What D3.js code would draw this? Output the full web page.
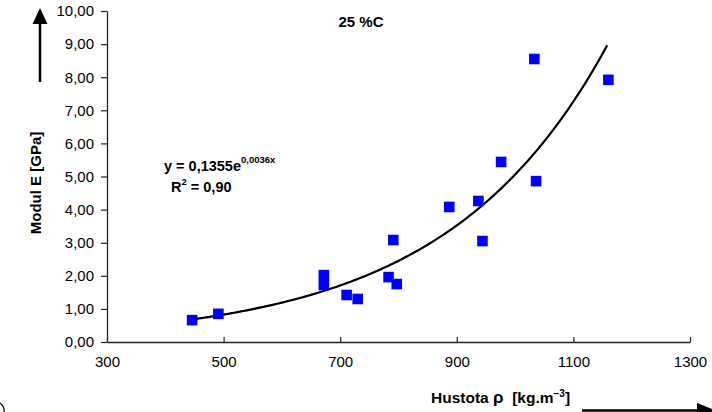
<!DOCTYPE html>
<html>
<head>
<meta charset="utf-8">
<script src="https://cdn.jsdelivr.net/npm/d3@7/dist/d3.min.js"></script>
<style>
  html, body { margin: 0; padding: 0; background: #fff; }
  svg { display: block; font-family: "Liberation Sans", Arial, sans-serif; }
</style>
</head>
<body>
<svg id="chart" width="712" height="412"></svg>
<script>
// ---- data ----
const densities = [446, 491, 672, 672, 711, 730, 783, 791, 797, 887, 937, 944, 976, 1033, 1036, 1160];
const moduli    = [0.66, 0.85, 2.02, 1.72, 1.42, 1.30, 1.96, 3.08, 1.75, 4.08, 4.26, 3.05, 5.44, 8.55, 4.86, 7.92];
const xTicks = [300, 500, 700, 900, 1100, 1300];
const yTicks = [0, 1, 2, 3, 4, 5, 6, 7, 8, 9, 10];
const trendA = 0.1355, trendB = 0.00362;   // displayed rounded as 0,0036
const trendRange = [446, 1158];
const titleText = "25 %C";
const yLabel = "Modul E [GPa]";

// ---- layout ----
const svg = d3.select("#chart");
const mLeft = 107, mRight = 690, mTop = 11, mBottom = 342;
const x = d3.scaleLinear().domain([300, 1300]).range([mLeft, mRight]);
const y = d3.scaleLinear().domain([0, 10]).range([mBottom, mTop]);
const fmt = d => d.toFixed(2).replace(".", ",");

// y axis
const yAxis = svg.append("g").attr("transform", `translate(${mLeft},0)`)
  .call(d3.axisLeft(y).tickValues(yTicks).tickFormat(fmt).tickSizeInner(6).tickSizeOuter(0).tickPadding(7));
yAxis.select(".domain").attr("stroke", "#222").attr("stroke-width", 1.3);
yAxis.selectAll(".tick line").attr("stroke", "#222").attr("stroke-width", 1.2);
yAxis.selectAll("text").attr("font-size", 15).attr("fill", "#000")
  .attr("font-family", "Liberation Sans, Arial, sans-serif");

// x axis (ticks inside)
const xAxis = svg.append("g").attr("transform", `translate(0,${mBottom})`)
  .call(d3.axisBottom(x).tickValues(xTicks).tickFormat(d3.format("d")).tickSizeInner(0).tickSizeOuter(0).tickPadding(14));
xAxis.select(".domain").attr("stroke", "#222").attr("stroke-width", 1.3);
xAxis.selectAll(".tick line").attr("y2", -5).attr("stroke", "#222").attr("stroke-width", 1.2);
xAxis.selectAll("text").attr("font-size", 15).attr("fill", "#000")
  .attr("font-family", "Liberation Sans, Arial, sans-serif");

// trend curve
const tx = d3.range(trendRange[0], trendRange[1] + 0.1, 4);
const line = d3.line().x(d => x(d)).y(d => y(trendA * Math.exp(trendB * d))).curve(d3.curveLinear);
svg.append("path").datum(tx).attr("d", line)
  .attr("fill", "none").attr("stroke", "#000").attr("stroke-width", 2.2);

// points
const sz = 10.6;
svg.append("g").selectAll("rect").data(densities.map((d, i) => [d, moduli[i]])).join("rect")
  .attr("x", d => x(d[0]) - sz / 2).attr("y", d => y(d[1]) - sz / 2)
  .attr("width", sz).attr("height", sz).attr("fill", "#0000ff");

// title
svg.append("text").attr("x", 361).attr("y", 27).attr("text-anchor", "middle")
  .attr("font-size", 15).attr("font-weight", "bold").text(titleText);

// equation
const eq = svg.append("text").attr("x", 164).attr("y", 171).attr("font-size", 14.5).attr("font-weight", "bold");
eq.append("tspan").text("y = 0,1355e");
eq.append("tspan").attr("dy", -8).attr("font-size", 9.5).text("0,0036x");
const r2 = svg.append("text").attr("x", 171).attr("y", 192).attr("font-size", 14.5).attr("font-weight", "bold");
r2.append("tspan").text("R");
r2.append("tspan").attr("dy", -7).attr("font-size", 9.5).text("2");
r2.append("tspan").attr("dy", 7).text(" = 0,90");

// y label
svg.append("text").attr("transform", "translate(41,183) rotate(-90)").attr("text-anchor", "middle")
  .attr("font-size", 15).attr("font-weight", "bold").text(yLabel);

// y arrow
svg.append("line").attr("x1", 40).attr("x2", 40).attr("y1", 82).attr("y2", 20)
  .attr("stroke", "#000").attr("stroke-width", 2.5);
svg.append("path").attr("d", "M40,8 L47.5,24 L32.5,24 Z").attr("fill", "#000");

// x label
const xl = svg.append("text").attr("x", 431).attr("y", 403).attr("font-size", 15.5)
  .attr("font-weight", "bold").style("white-space", "pre");
xl.append("tspan").text("Hustota ");
xl.append("tspan").attr("font-size", 17).text("ρ");
xl.append("tspan").text("  [kg.m");
xl.append("tspan").attr("dy", -6).attr("font-size", 10).text("\u22123");
xl.append("tspan").attr("dy", 6).text("]");

// x arrow
svg.append("line").attr("x1", 582).attr("x2", 700).attr("y1", 410.5).attr("y2", 410.5)
  .attr("stroke", "#000").attr("stroke-width", 2.5);
svg.append("path").attr("d", "M716,410.5 L697,403 L697,418 Z").attr("fill", "#000");

// partial mark at bottom-left edge
svg.append("path").attr("d", "M0,403 Q5,407 4,412").attr("fill", "none")
  .attr("stroke", "#000").attr("stroke-width", 1.3);
</script>
</body>
</html>
